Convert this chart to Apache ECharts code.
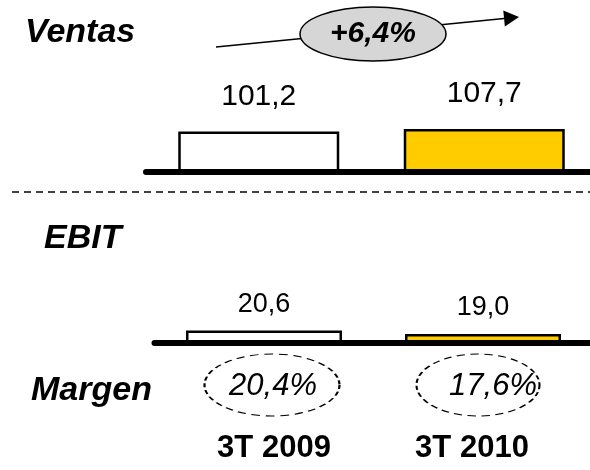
<!DOCTYPE html>
<html>
<head>
<meta charset="utf-8">
<script src="https://cdn.jsdelivr.net/npm/echarts@6/dist/echarts.min.js"></script>
<style>
  html, body { margin: 0; padding: 0; background: #fff; }
  #chart { width: 590px; height: 470px; }
</style>
</head>
<body>
<div id="chart"></div>
<script>
// data
const periods = ["3T 2009", "3T 2010"];
const ventas = [101.2, 107.7];
const ebit = [20.6, 19.0];
const rowLabels = ["Ventas", "EBIT", "Margen"];

// derived figures
const margen = ebit.map((e, i) => (e / ventas[i]) * 100);
const growth = (ventas[1] / ventas[0] - 1) * 100;

// styles
const barColors = ["#ffffff", "#ffcc00"];
const ovalWidth = [135, 123];
const ovalShift = [-2, 6];
const ovalTextShift = [1, 15];
const FONT = "'Liberation Sans', Arial, sans-serif";

const fmt = (v) => v.toFixed(1).replace(".", ",");

const chart = echarts.init(document.getElementById("chart"));

const hiddenAxis = { show: false };
const baseAxis = (grid) => ({
  type: "category",
  gridIndex: grid,
  data: periods,
  z: 5,
  axisTick: { show: false },
  axisLabel: { show: false },
  axisLine: { show: true, lineStyle: { color: "#000", width: 6, cap: "round" } },
});

function rowLabel(text, x, y) {
  return {
    type: "text",
    x: x,
    y: y,
    style: {
      text: text,
      font: "italic bold 34px " + FONT,
      fill: "#000",
      textVerticalAlign: "middle",
      verticalAlign: "middle",
    },
  };
}

// arrow for growth
const a0 = [216, 47];
const tip = [519, 17];
const dx = tip[0] - a0[0], dy = tip[1] - a0[1];
const len = Math.hypot(dx, dy);
const ux = dx / len, uy = dy / len;
const bx = tip[0] - 15 * ux, by = tip[1] - 15 * uy;

chart.setOption({
  animation: false,
  grid: [
    { left: 146, width: 451, top: 100, height: 72, outerBoundsMode: "none" },
    { left: 154.5, width: 438, top: 310.5, height: 32, outerBoundsMode: "none" },
    { left: 175, right: 19, top: 355, height: 60 },
  ],
  xAxis: [
    baseAxis(0),
    baseAxis(1),
    {
      type: "category",
      gridIndex: 2,
      data: periods,
      axisTick: { show: false },
      axisLine: { show: false },
      axisLabel: { color: "#000", fontFamily: FONT, fontWeight: "bold", fontSize: 31, margin: 18 },
    },
  ],
  yAxis: [
    { type: "value", gridIndex: 0, min: 0, max: 180, ...hiddenAxis },
    { type: "value", gridIndex: 1, min: 15, max: 30, ...hiddenAxis },
    { type: "category", gridIndex: 2, data: [rowLabels[2]], ...hiddenAxis },
  ],
  series: [
    {
      type: "bar",
      xAxisIndex: 0,
      yAxisIndex: 0,
      barWidth: 161,
      data: ventas.map((v, i) => ({ value: v, itemStyle: { color: barColors[i] } })),
      itemStyle: { borderColor: "#000", borderWidth: 2.5 },
      label: {
        show: true,
        position: "top",
        distance: 20,
        color: "#000",
        fontFamily: FONT,
        fontSize: 30,
        formatter: (p) => fmt(p.value),
      },
    },
    {
      type: "bar",
      xAxisIndex: 1,
      yAxisIndex: 1,
      barWidth: 156,
      data: ebit.map((v, i) => ({ value: v, itemStyle: { color: barColors[i] } })),
      itemStyle: { borderColor: "#000", borderWidth: 2.5 },
      label: {
        show: true,
        position: "top",
        distance: 13,
        color: "#000",
        fontFamily: FONT,
        fontSize: 27,
        formatter: (p) => fmt(p.value),
      },
    },
    {
      type: "scatter",
      xAxisIndex: 2,
      yAxisIndex: 2,
      symbol: "circle",
      data: margen.map((m, i) => ({
        value: [i, 0, m],
        symbolSize: [ovalWidth[i], 62],
        symbolOffset: [ovalShift[i], 0],
        label: { offset: [ovalTextShift[i], 1] },
      })),
      itemStyle: { color: "rgba(0,0,0,0)", opacity: 1, borderColor: "#000", borderWidth: 1.5, borderType: [6, 4] },
      label: {
        show: true,
        position: "inside",
        color: "#000",
        fontFamily: FONT,
        fontStyle: "italic",
        fontSize: 31,
        formatter: (p) => fmt(p.value[2]) + "%",
      },
    },
  ],
  graphic: [
    rowLabel(rowLabels[0], 25, 33),
    rowLabel(rowLabels[1], 44, 239),
    rowLabel(rowLabels[2], 31, 391),
    {
      type: "line",
      shape: { x1: 12, y1: 192, x2: 590, y2: 192 },
      style: { stroke: "#000", lineWidth: 1.5, lineDash: [7, 5] },
    },
    {
      type: "line",
      shape: { x1: a0[0], y1: a0[1], x2: bx, y2: by },
      style: { stroke: "#000", lineWidth: 1.5 },
    },
    {
      type: "polygon",
      shape: { points: [tip, [bx - 8 * uy, by + 8 * ux], [bx + 8 * uy, by - 8 * ux]] },
      style: { fill: "#000" },
    },
    {
      type: "ellipse",
      shape: { cx: 373, cy: 34, rx: 73, ry: 27 },
      style: { fill: "#d6d6d6", stroke: "#000", lineWidth: 1.5 },
      z: 10,
    },
    {
      type: "text",
      x: 373,
      y: 34,
      z: 11,
      style: {
        text: (growth >= 0 ? "+" : "") + fmt(growth) + "%",
        font: "italic bold 30px " + FONT,
        fill: "#000",
        textAlign: "center",
        align: "center",
        textVerticalAlign: "middle",
        verticalAlign: "middle",
      },
    },
  ],
});
</script>
</body>
</html>
